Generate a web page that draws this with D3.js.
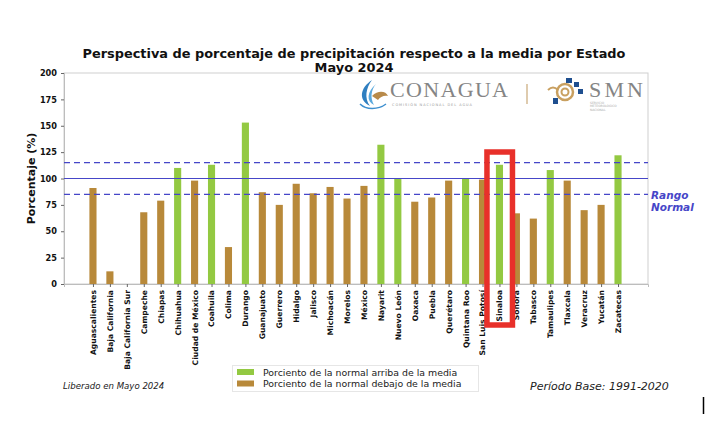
<!DOCTYPE html>
<html><head><meta charset="utf-8">
<script src="https://cdn.jsdelivr.net/npm/d3@7"></script>
<style>body{margin:0;background:#fff}svg{display:block}</style>
</head><body>
<svg id="c" width="707" height="421"></svg>
<script>
const states = ["Aguascalientes","Baja California","Baja California Sur","Campeche","Chiapas","Chihuahua","Ciudad de México","Coahuila","Colima","Durango","Guanajuato","Guerrero","Hidalgo","Jalisco","Michoacán","Morelos","México","Nayarit","Nuevo León","Oaxaca","Puebla","Querétaro","Quintana Roo","San Luis Potosí","Sinaloa","Sonora","Tabasco","Tamaulipes","Tlaxcala","Veracruz","Yucatán","Zacatecas"];
const values = [91,12,0,68,79,110,98,113,35,153,87,75,95,86,92,81,93,132,100,78,82,98,100,99,113,67,62,108,98,70,75,122];
const yTicks = [0,25,50,75,100,125,150,175,200];
const normalLine = 100;
const rangeLines = [85,115];
const legendLabels = ["Porciento de la normal arriba de la media","Porciento de la normal debajo de la media"];
const highlighted = "Sinaloa";

const svg = d3.select("#c");
const plot = {l:64,r:648,t:73,b:284};
const x = d3.scaleLinear().domain([-1.71,32.77]).range([plot.l,plot.r]);
const y = d3.scaleLinear().domain([0,200]).range([plot.b,plot.t]);
const green="#93c942", brown="#b8893a", blue="#4646c8";
const bw = x(0.42)-x(0);

// frame
svg.append("rect").attr("x",plot.l).attr("y",plot.t).attr("width",plot.r-plot.l).attr("height",plot.b-plot.t)
  .attr("fill","none").attr("stroke","#cfcfcf").attr("stroke-width",1);

// y axis
const ya = svg.append("g").attr("transform",`translate(${plot.l},0)`)
  .call(d3.axisLeft(y).tickValues(yTicks).tickSize(3).tickPadding(4));
ya.select(".domain").attr("stroke","#bdbdbd");
ya.selectAll(".tick line").attr("stroke","#666");
ya.selectAll("text").attr("font-family","DejaVu Sans").attr("font-weight","bold").attr("font-size","8.2px").attr("fill","#111");

// x axis
const xa = svg.append("g").attr("transform",`translate(0,${plot.b})`)
  .call(d3.axisBottom(x).tickValues(d3.range(states.length)).tickFormat(i=>states[i]).tickSize(3).tickPadding(3));
xa.select(".domain").attr("stroke","#bdbdbd");
xa.selectAll(".tick line").attr("stroke","#666");
xa.selectAll("text").attr("font-family","DejaVu Sans").attr("font-weight","bold").attr("font-size","7.6px").attr("fill","#111")
  .attr("text-anchor","end").attr("transform","rotate(-90)").attr("dy","0.32em").attr("x",-6).attr("y",0);

// bars
svg.append("g").selectAll("rect").data(values).join("rect")
  .attr("x",(d,i)=>x(i)-bw/2).attr("width",bw)
  .attr("y",d=>y(d)).attr("height",d=>plot.b-y(d))
  .attr("fill",d=>d>=100?green:brown);

// reference lines
svg.append("line").attr("x1",plot.l).attr("x2",plot.r).attr("y1",y(normalLine)).attr("y2",y(normalLine))
  .attr("stroke",blue).attr("stroke-width",1.2);
svg.append("g").selectAll("line").data(rangeLines).join("line")
  .attr("x1",plot.l).attr("x2",plot.r).attr("y1",d=>y(d)).attr("y2",d=>y(d))
  .attr("stroke",blue).attr("stroke-width",1.3).attr("stroke-dasharray","6,4");
svg.append("text").attr("x",651).attr("y",y(85)+5).attr("fill",blue).attr("font-family","DejaVu Sans")
  .attr("font-style","italic").attr("font-weight","bold").attr("font-size","10.5px")
  .selectAll("tspan").data(["Rango","Normal"]).join("tspan").attr("x",651).attr("dy",(d,i)=>i?"1.1em":0).text(d=>d);

// title
svg.append("text").attr("x",354).attr("y",58).attr("text-anchor","middle").attr("font-family","DejaVu Sans")
  .attr("font-weight","bold").attr("font-size","12.9px").attr("fill","#111")
  .selectAll("tspan").data(["Perspectiva de porcentaje de precipitación respecto a la media por Estado","Mayo 2024"])
  .join("tspan").attr("x",354).attr("dy",(d,i)=>i?"1.08em":0).text(d=>d);

// y label
svg.append("text").attr("transform",`translate(35,${(plot.t+plot.b)/2}) rotate(-90)`).attr("text-anchor","middle")
  .attr("font-family","DejaVu Sans").attr("font-weight","bold").attr("font-size","11px").attr("fill","#111").text("Porcentaje (%)");

// logos
const lg = svg.append("g");
lg.append("path").attr("d","M372,80 C360,88 358,100 370,106 C364,98 366,88 372,80 Z").attr("fill","#2f7fc0");
lg.append("path").attr("d","M376,84 C367,92 366,101 374,105 C370,98 371,90 376,84 Z").attr("fill","#5aa8dc");
lg.append("path").attr("d","M372,96 C378,90 386,91 388,96 C384,95 380,97 378,100 Z").attr("fill","#b88a4a");
lg.append("path").attr("d","M360,104 C366,110 378,110 386,104").attr("fill","none").attr("stroke","#3d8fcf").attr("stroke-width",1.5);
lg.append("text").attr("x",390).attr("y",97).attr("font-family","Liberation Serif").attr("font-size","22px")
  .attr("fill","#858585").attr("textLength",118).text("CONAGUA");
lg.append("text").attr("x",392).attr("y",106).attr("font-family","DejaVu Sans").attr("font-size","3.5px")
  .attr("fill","#999").attr("textLength",80).text("COMISIÓN NACIONAL DEL AGUA");
lg.append("line").attr("x1",527).attr("x2",527).attr("y1",84).attr("y2",104).attr("stroke","#c9a878").attr("stroke-width",1.2);
// SMN icon
lg.append("circle").attr("cx",565).attr("cy",92).attr("r",8).attr("fill","none").attr("stroke","#c9a060").attr("stroke-width",2.5);
lg.append("circle").attr("cx",565).attr("cy",92).attr("r",3.5).attr("fill","none").attr("stroke","#c9a060").attr("stroke-width",2);
lg.append("path").attr("d","M548,90 q5,-5 10,0").attr("fill","none").attr("stroke","#c9a060").attr("stroke-width",2);
lg.append("rect").attr("x",566).attr("y",78).attr("width",6).attr("height",5).attr("fill","#1f4f8f");
lg.append("rect").attr("x",574).attr("y",82).attr("width",5).attr("height",5).attr("fill","#1f4f8f");
lg.append("rect").attr("x",578).attr("y",89).attr("width",5).attr("height",5).attr("fill","#1f4f8f");
lg.append("rect").attr("x",553).attr("y",98).attr("width",5).attr("height",6).attr("fill","#1f4f8f");
lg.append("text").attr("x",589).attr("y",97).attr("font-family","Liberation Serif").attr("font-size","22px")
  .attr("fill","#858585").attr("textLength",54).text("SMN");
lg.append("g").selectAll("text").data(["SERVICIO","METEOROLÓGICO","NACIONAL"]).join("text")
  .attr("x",590).attr("y",(d,i)=>104+i*3.3).attr("font-family","DejaVu Sans").attr("font-size","3px").attr("fill","#aaa").text(d=>d);

// highlight box
svg.append("rect").attr("x",x(states.indexOf(highlighted))-12.5).attr("y",152).attr("width",25.5).attr("height",173)
  .attr("fill","none").attr("stroke","#e8302a").attr("stroke-width",5.5);

// legend
const leg = svg.append("g");
leg.append("rect").attr("x",232.5).attr("y",365.5).attr("width",246).attr("height",26).attr("fill","#fff").attr("stroke","#e6e6e6");
leg.selectAll(".sw").data([green,brown]).join("rect").attr("class","sw")
  .attr("x",237).attr("y",(d,i)=>369+i*11.5).attr("width",17).attr("height",6).attr("fill",d=>d);
leg.selectAll(".lt").data(legendLabels).join("text").attr("class","lt")
  .attr("x",263).attr("y",(d,i)=>375.5+i*11.5).attr("font-family","DejaVu Sans").attr("font-size","9.4px").attr("fill","#222").text(d=>d);

// footers
svg.append("text").attr("x",63).attr("y",389).attr("font-family","DejaVu Sans").attr("font-style","italic")
  .attr("font-size","8.6px").attr("fill","#222").text("Liberado en Mayo 2024");
svg.append("text").attr("x",530).attr("y",390).attr("font-family","DejaVu Sans").attr("font-style","italic")
  .attr("font-size","11px").attr("fill","#222").text("Período Base: 1991-2020");
svg.append("line").attr("x1",703.5).attr("x2",703.5).attr("y1",397).attr("y2",414).attr("stroke","#000").attr("stroke-width",1.5);
</script>
</body></html>
